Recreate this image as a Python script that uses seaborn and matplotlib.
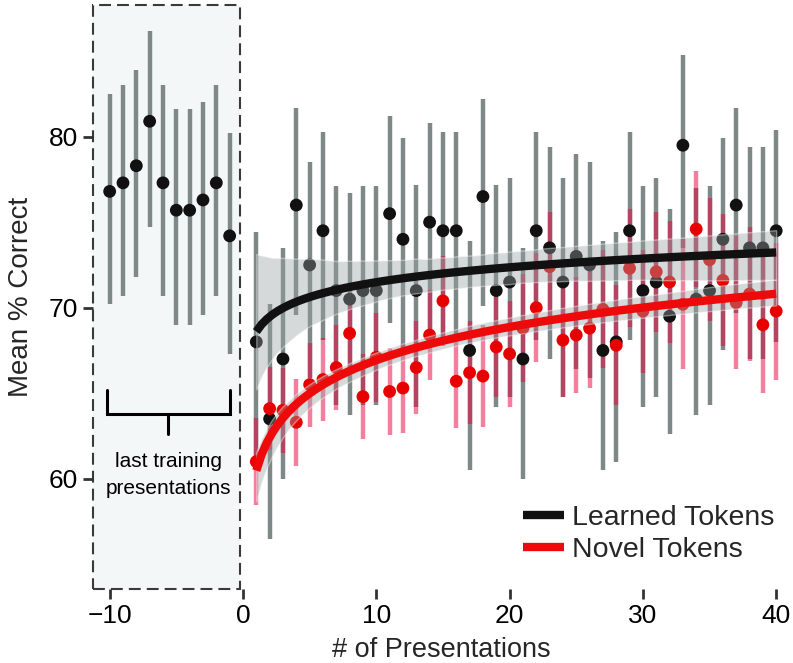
import numpy as np
import seaborn as sns
import matplotlib.pyplot as plt
from matplotlib.patches import Rectangle

# last training presentations (before test)
train_x = list(range(-10, 0))
train_mean = [76.8, 77.3, 78.3, 80.9, 77.3, 75.7, 75.7, 76.3, 77.3, 74.2]
train_up = [5.7, 5.7, 5.6, 5.3, 5.7, 5.9, 5.9, 5.7, 5.7, 6.0]
train_dn = [6.6, 6.6, 6.5, 6.2, 6.6, 6.7, 6.7, 6.7, 6.6, 6.9]

# test presentations
pres_x = list(range(1, 41))
learned_mean = [68.0, 63.5, 67.0, 76.0, 72.5, 74.5, 71.0, 70.5, 71.0, 71.0,
                75.5, 74.0, 71.0, 75.0, 74.5, 74.5, 67.5, 76.5, 71.0, 71.5,
                67.0, 74.5, 73.5, 71.5, 73.0, 72.5, 67.5, 68.0, 74.5, 71.0,
                71.5, 69.5, 79.5, 70.5, 71.0, 74.0, 76.0, 73.5, 73.5, 74.5]
learned_up = [6.4, 6.7, 6.5, 5.7, 6.0, 5.8, 6.1, 6.2, 6.1, 6.1,
              5.7, 5.9, 6.2, 5.8, 5.8, 5.8, 6.4, 5.7, 6.2, 6.1,
              6.5, 5.8, 5.9, 6.1, 6.0, 6.0, 6.4, 6.4, 5.8, 6.1,
              6.1, 6.3, 5.3, 6.5, 6.1, 5.9, 5.7, 5.9, 5.9, 5.9]
learned_dn = [7.0, 7.0, 7.0, 6.4, 6.6, 6.4, 6.7, 6.8, 6.7, 6.7,
              6.4, 6.5, 6.8, 6.4, 6.4, 6.4, 7.0, 6.4, 6.8, 6.7,
              7.0, 6.4, 6.5, 6.7, 6.6, 6.6, 7.0, 7.0, 6.4, 6.8,
              6.7, 6.9, 6.0, 6.8, 6.7, 6.5, 6.3, 6.5, 6.5, 6.5]
novel_mean = [61.0, 64.1, 64.0, 63.3, 65.5, 65.8, 66.5, 68.5, 64.8, 67.1,
              65.1, 65.3, 66.5, 68.4, 70.4, 65.7, 66.2, 66.0, 67.7, 67.3,
              68.8, 70.0, 72.4, 68.1, 68.4, 68.8, 69.9, 67.8, 72.3, 69.8,
              72.1, 71.5, 70.2, 74.6, 72.8, 71.6, 70.3, 70.8, 69.0, 69.8]
novel_err = [2.55, 2.45, 2.5, 2.55, 2.45, 2.4, 2.5, 2.2, 2.5, 2.6,
             2.55, 2.6, 2.7, 2.65, 2.65, 2.75, 3.0, 3.0, 2.9, 3.1,
             3.15, 3.2, 3.2, 3.3, 3.4, 3.5, 3.45, 3.5, 3.45, 3.6,
             3.5, 3.55, 3.8, 3.4, 3.6, 3.85, 3.9, 3.9, 4.0, 4.0]

GREY_BAR = "#7e8987"
RED_BAR = "#e8003f"
DOT_BLACK = "#111111"
DOT_RED = "#e80000"
LINE_RED = "#ee0a0a"

sns.set_style("white")
plt.rcParams["font.family"] = ["Liberation Sans", "DejaVu Sans"]

fig = plt.figure(figsize=(7.93, 6.63), dpi=100)
ax = fig.add_axes([93 / 793, 74 / 663, 696 / 793, 584 / 663])
ax.set_xlim(-11.25, 40.96)
ax.set_ylim(53.55, 87.7)

# shaded dashed box around the training part
ax.add_patch(Rectangle((-11.25, 53.55), 11.05, 34.15, facecolor="#f4f7f8",
                       edgecolor="#3a3a3a", lw=1.5, ls=(0, (5.7, 2.9)),
                       clip_on=False, zorder=0))

# error bars
ax.errorbar(train_x, train_mean, yerr=[train_dn, train_up], fmt="none",
            ecolor=GREY_BAR, elinewidth=3.2, capsize=0, zorder=2)
ax.errorbar(pres_x, learned_mean, yerr=[learned_dn, learned_up], fmt="none",
            ecolor=GREY_BAR, elinewidth=3.2, capsize=0, zorder=2)
ax.errorbar(pres_x, novel_mean, yerr=novel_err, fmt="none",
            ecolor=RED_BAR, elinewidth=3.2, capsize=0, alpha=0.5, zorder=2.1)

# means
sns.scatterplot(x=train_x, y=train_mean, color=DOT_BLACK, s=85,
                edgecolor="none", zorder=3, ax=ax)
sns.scatterplot(x=pres_x, y=learned_mean, color=DOT_BLACK, s=85,
                edgecolor="none", zorder=3, ax=ax)
sns.scatterplot(x=pres_x, y=novel_mean, color=DOT_RED, s=85,
                edgecolor="none", zorder=3.1, ax=ax)

# log fits with CI bands
fits = []
for yvals, col, lab in [(learned_mean, DOT_BLACK, "Learned Tokens"),
                        (novel_mean, LINE_RED, "Novel Tokens")]:
    n_before = len(ax.collections)
    sns.regplot(x=np.array(pres_x, float), y=np.array(yvals), logx=True,
                scatter=False, truncate=True, seed=0, color=col,
                line_kws=dict(lw=6, zorder=5, solid_capstyle="butt"), ax=ax)
    for band in ax.collections[n_before:]:
        band.set_facecolor("#98a2a2")
        band.set_alpha(0.4)
        band.set_zorder(4)
    line = ax.lines[-1]
    line.set_label(lab)
    fits.append(line)

# bracket + note for the training section
ax.plot([-10.2, -10.2, -1.0, -1.0], [65.2, 63.8, 63.8, 65.2], color="black",
        lw=2.2, solid_joinstyle="miter")
ax.plot([-5.6, -5.6], [63.8, 62.6], color="black", lw=2.2)
ax.text(-5.6, 61.55, "last training\npresentations", ha="center", va="top",
        fontsize=15, linespacing=1.5, color="black")

ax.legend(handles=fits, loc="lower right", bbox_to_anchor=(1.0, 0.02),
          frameon=False, fontsize=20.5, handlelength=1.45, handletextpad=0.3,
          labelspacing=0.2, borderaxespad=0.1)

ax.set_xticks([-10, 0, 10, 20, 30, 40])
ax.set_yticks([60, 70, 80])
sns.despine(ax=ax, left=True, bottom=True)
ax.tick_params(direction="out", length=7, width=2, color="#333333",
               labelsize=19, labelcolor="black", pad=4, left=True, bottom=True)
ax.set_xlabel("# of Presentations", fontsize=19.5, labelpad=6)
ax.set_ylabel("Mean % Correct", fontsize=20, labelpad=10)

fig.savefig("out.png", dpi=100)
